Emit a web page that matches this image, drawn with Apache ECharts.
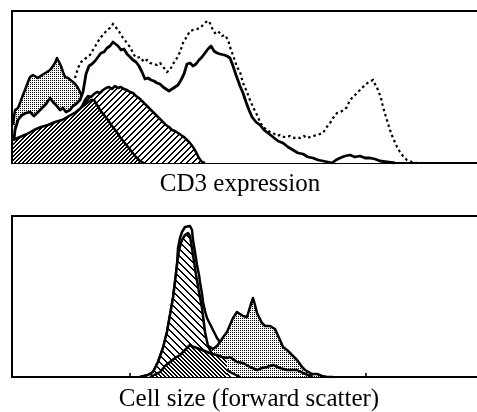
<!DOCTYPE html>
<html><head><meta charset="utf-8">
<script src="https://cdn.jsdelivr.net/npm/echarts@6/dist/echarts.min.js"></script>
<style>html,body{margin:0;padding:0;background:#fff}#c{width:477px;height:412px}</style>
</head><body><div id="c"></div>
<script>
// x: channel (0..472, 118 channels per decade); y: cell count
const xTickInterval = 118;
const xMax = 472;
const titleTop = "CD3 expression";
const titleBottom = "Cell size (forward scatter)";

// ---- Top panel: CD3 expression ----
const cd3Dotted = [[63,85],[66,95],[69,101],[72,103],[75,106],[78,108],[81,113],[84,118],[88,125],[91,128],[95,133],[98,135],[101,139],[103,138],[106,133],[108,130],[111,125],[115,120],[118,116],[122,108],[125,105],[128,106],[132,101],[135,103],[138,100],[142,99],[145,98],[148,100],[152,95],[155,91],[158,93],[161,99],[165,105],[168,111],[171,120],[174,125],[178,132],[181,133],[185,134],[188,135],[191,138],[194,141],[197,142],[200,135],[203,130],[206,132],[210,127],[213,128],[216,123],[219,113],[222,105],[225,96],[228,91],[231,80],[235,71],[238,63],[241,56],[245,48],[248,41],[251,36],[255,33],[258,31],[261,30],[265,27],[268,28],[272,26],[275,26],[278,27],[282,25],[285,26],[288,25],[292,27],[295,25],[298,26],[301,27],[305,28],[308,29],[311,30],[314,35],[318,40],[321,45],[325,50],[328,51],[332,53],[335,56],[338,63],[341,66],[345,70],[348,73],[351,76],[354,79],[357,81],[361,83],[363,84],[366,73],[369,65],[371,56],[374,46],[378,33],[381,25],[385,16],[388,11],[391,7],[395,3],[400,1],[405,0]];
const cd3Solid = [[1,13],[3,33],[6,43],[10,48],[14,50],[18,51],[22,47],[26,51],[30,55],[34,59],[38,65],[41,61],[44,58],[48,53],[51,55],[54,51],[58,53],[61,57],[64,59],[68,63],[71,71],[74,89],[77,97],[80,99],[83,102],[86,106],[89,110],[92,111],[95,115],[98,117],[101,121],[103,123],[106,117],[109,113],[112,114],[115,109],[118,106],[121,103],[124,101],[127,97],[130,91],[133,84],[136,85],[139,83],[142,82],[145,80],[148,79],[151,76],[154,74],[157,72],[160,74],[163,76],[166,78],[169,83],[172,89],[175,99],[178,100],[181,97],[184,99],[187,103],[190,106],[193,110],[196,114],[199,117],[202,112],[205,110],[208,109],[212,108],[215,107],[218,105],[221,97],[224,88],[228,77],[231,70],[234,61],[237,53],[240,46],[244,41],[248,38],[252,33],[256,30],[261,26],[266,22],[271,20],[276,16],[281,13],[286,10],[291,9],[296,6],[301,5],[306,3],[311,2],[316,1],[320,0],[324,3],[328,5],[333,7],[338,8],[343,6],[348,7],[353,5],[358,5],[363,4],[368,2],[375,1],[383,0]];
const cd3Stipple = [[1,38],[3,53],[6,55],[8,60],[11,68],[13,73],[16,81],[18,86],[21,88],[23,90],[26,85],[28,83],[30,88],[32,90],[35,91],[38,93],[41,97],[43,100],[45,105],[47,103],[49,97],[51,91],[53,86],[56,85],[58,83],[61,81],[64,78],[66,75],[68,71],[70,66],[71,58],[72,48],[73,23],[74,0]];
const cd3CoarseHatch = [[1,3],[18,13],[38,23],[58,38],[68,53],[73,63],[76,67],[79,66],[82,69],[85,71],[88,70],[91,73],[94,75],[97,76],[100,74],[103,77],[106,75],[109,76],[112,74],[115,73],[118,71],[121,70],[124,67],[127,65],[130,62],[133,59],[136,56],[139,53],[142,50],[145,47],[148,44],[151,41],[154,38],[157,36],[160,33],[163,32],[166,30],[169,28],[172,26],[175,23],[178,20],[181,16],[184,11],[187,5],[190,1],[193,0]];
const cd3FineHatch = [[1,23],[8,26],[15,29],[22,33],[29,36],[36,38],[43,41],[50,43],[57,47],[64,51],[70,56],[75,60],[79,63],[82,63],[85,58],[88,53],[92,48],[96,43],[100,37],[104,32],[108,26],[112,21],[116,16],[120,11],[124,6],[128,2],[132,0]];

// ---- Bottom panel: forward scatter ----
const fscOpen = [[128,0],[136,2],[141,5],[146,15],[151,29],[155,45],[158,62],[161,79],[163,95],[165,112],[166,129],[168,139],[170,145],[173,150],[175,152],[178,151],[180,147],[181,137],[183,125],[185,112],[187,102],[188,95],[190,83],[191,75],[193,66],[195,59],[198,53],[200,49],[203,43],[205,39],[208,35],[212,30],[218,24],[228,15],[238,7],[248,2],[258,0]];
const fscCoarseHatch = [[128,0],[136,2],[141,5],[146,15],[151,29],[155,45],[158,62],[161,79],[163,95],[165,112],[167,127],[170,137],[173,142],[176,144],[178,141],[181,122],[184,102],[187,85],[190,69],[193,45],[196,31],[200,23],[204,17],[210,11],[218,5],[228,0]];
const fscStipple = [[153,0],[160,4],[168,9],[175,19],[181,27],[188,35],[195,32],[201,28],[205,31],[208,35],[212,41],[215,45],[218,52],[221,59],[225,65],[228,63],[231,61],[235,60],[238,70],[241,79],[243,72],[245,64],[248,58],[250,54],[253,51],[255,50],[258,51],[260,50],[263,48],[265,46],[268,37],[271,30],[275,27],[278,24],[281,21],[285,17],[288,13],[290,10],[293,7],[295,5],[300,3],[305,3],[310,1],[315,0],[321,0]];
const fscFine = [[138,0],[148,5],[153,11],[158,15],[163,19],[168,22],[173,27],[178,32],[182,30],[185,29],[190,27],[195,25],[200,23],[205,22],[210,20],[215,19],[218,20],[225,15],[231,14],[238,10],[245,7],[250,9],[255,10],[261,12],[268,9],[275,7],[285,7],[291,4],[301,0]];
const fscFineHatchEnd = 215;

function pattern(size, fn) {
  const c = document.createElement('canvas');
  c.width = size; c.height = size;
  const ctx = c.getContext('2d');
  const img = ctx.createImageData(size, size);
  for (let y = 0; y < size; y++) for (let x = 0; x < size; x++) {
    const v = fn(x, y) ? 0 : 255;
    const i = (y * size + x) * 4;
    img.data[i] = v; img.data[i+1] = v; img.data[i+2] = v; img.data[i+3] = 255;
  }
  ctx.putImageData(img, 0, 0);
  return { image: c, repeat: 'repeat' };
}
const mod = (a, n) => ((a % n) + n) % n;
const patStipple = pattern(2, (x, y) => x === 0 && y === 0);
const patFwdCoarse = pattern(6, (x, y) => mod(x + y, 6) < 2);
const patFwdFine = pattern(4, (x, y) => mod(x + y, 4) < 2);
const patBackCoarse = pattern(7, (x, y) => mod(x - y, 7) < 2);
const patBackFine = pattern(4, (x, y) => mod(x - y, 4) < 1.5);

const chart = echarts.init(document.getElementById('c'), null, { renderer: 'canvas' });

function area(data, grid, fill, z, lineW) {
  return {
    type: 'line', xAxisIndex: grid, yAxisIndex: grid, data: data, z: z,
    symbol: 'none', showSymbol: false, smooth: false, animation: false, silent: true,
    lineStyle: { color: '#000', width: lineW, join: 'round' },
    areaStyle: fill ? { color: fill, opacity: 1 } : undefined
  };
}

const axisX = (g) => ({
  type: 'value', gridIndex: g, min: 0, max: xMax, interval: xTickInterval,
  axisLine: { show: true, lineStyle: { color: '#000', width: 2 } },
  axisTick: { show: true, inside: true, length: 4, lineStyle: { color: '#000', width: 1.5 } },
  axisLabel: { show: false }, splitLine: { show: false }
});
const axisY = (g, max) => ({
  type: 'value', gridIndex: g, min: 0, max: max, show: false, splitLine: { show: false }
});

const dotted = area(cd3Dotted, 0, null, 2, 2.2);
dotted.lineStyle.type = [2.5, 3];
dotted.lineStyle.join = 'miter';

const gridBase = { left: 12, width: 472, show: true, borderColor: '#000', borderWidth: 2,
  backgroundColor: 'transparent', containLabel: false, outerBoundsMode: 'none' };

chart.setOption({
  animation: false,
  backgroundColor: '#fff',
  grid: [
    Object.assign({}, gridBase, { top: 11, height: 152 }),
    Object.assign({}, gridBase, { top: 216, height: 161 })
  ],
  xAxis: [axisX(0), axisX(1)],
  yAxis: [axisY(0, 152), axisY(1, 161)],
  series: [
    dotted,
    area(cd3Stipple, 0, patStipple, 3, 2.5),
    area(cd3Solid, 0, '#fff', 4, 2.8),
    area(cd3CoarseHatch, 0, patFwdCoarse, 5, 2.5),
    area(cd3FineHatch, 0, patFwdFine, 6, 2.5),
    area(fscOpen, 1, '#fff', 2, 2.5),
    area(fscStipple, 1, patStipple, 3, 2.5),
    area(fscCoarseHatch, 1, patBackCoarse, 4, 2.5),
    area(fscFine.filter(p => p[0] <= fscFineHatchEnd), 1, patBackFine, 5, 0),
    area(fscFine, 1, null, 6, 2.5)
  ],
  graphic: [
    { type: 'text', x: 240, y: 184, style: { text: titleTop, font: '25px "Liberation Serif", serif', fill: '#000', align: 'center', verticalAlign: 'middle' } },
    { type: 'text', x: 249, y: 399, style: { text: titleBottom, font: '25px "Liberation Serif", serif', fill: '#000', align: 'center', verticalAlign: 'middle' } }
  ]
});
</script></body></html>
